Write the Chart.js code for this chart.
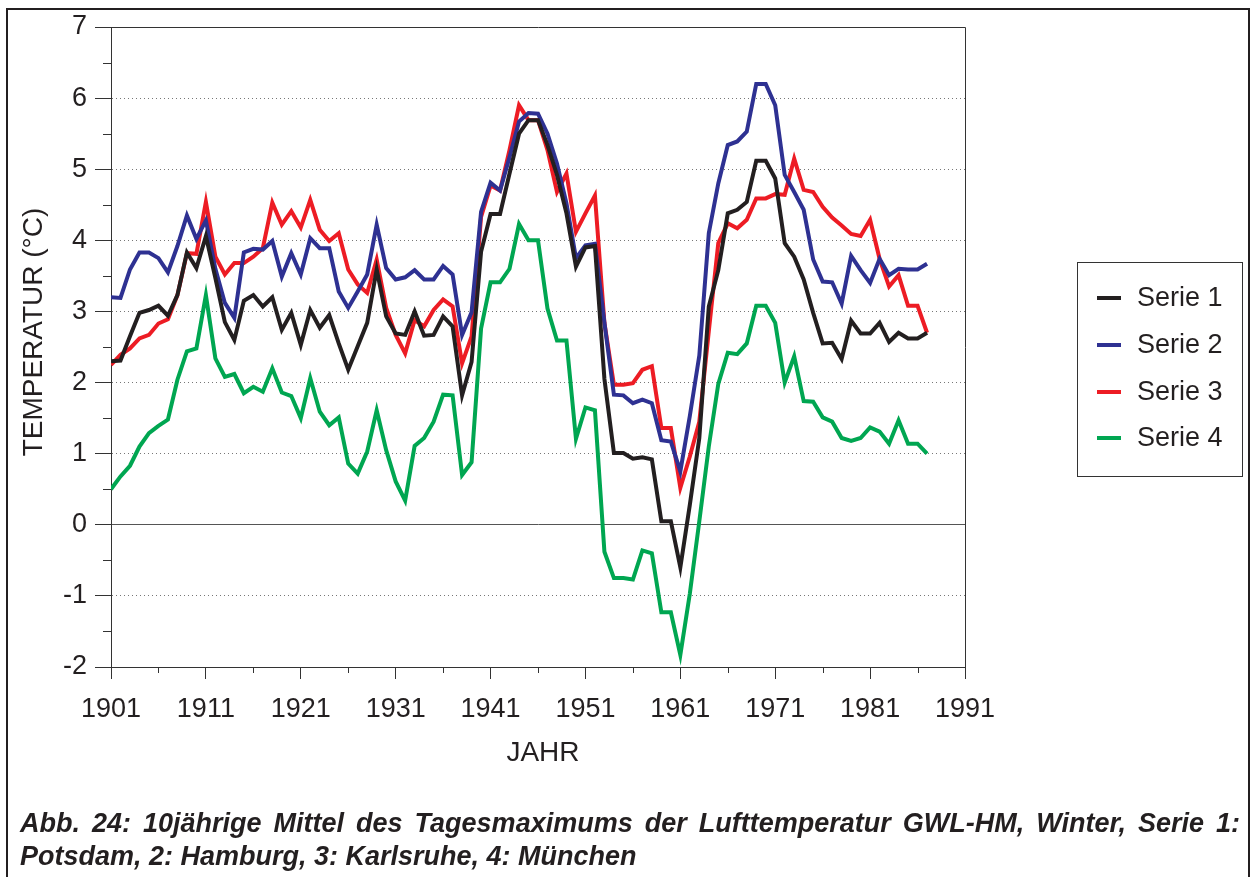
<!DOCTYPE html>
<html>
<head>
<meta charset="utf-8">
<script src="https://cdn.jsdelivr.net/npm/chart.js@4.4.1/dist/chart.umd.min.js"></script>
<style>
html,body{margin:0;padding:0;background:#fff;}
#wrap{position:relative;width:1255px;height:877px;overflow:hidden;background:#fff;}
#frame{position:absolute;left:6px;top:8px;width:1244px;height:900px;border:2px solid #231f20;box-sizing:border-box;}
#c{position:absolute;left:0;top:0;}
#caption{position:absolute;left:20px;top:807px;width:1220px;font-family:"Liberation Sans",Arial,Helvetica,sans-serif;font-style:italic;font-weight:bold;font-size:27px;line-height:33px;color:#231f20;}
#caption .l1{text-align:justify;text-align-last:justify;}
#caption .l2{text-align:left;}
</style>
</head>
<body>
<div id="wrap">
  <div id="frame"></div>
  <canvas id="c" width="1255" height="877"></canvas>
  <div id="caption">
    <div class="l1">Abb. 24: 10jährige Mittel des Tagesmaximums der Lufttemperatur GWL-HM, Winter, Serie 1:</div>
    <div class="l2">Potsdam, 2: Hamburg, 3: Karlsruhe, 4: München</div>
  </div>
</div>
<script>
const years = [1901,1902,1903,1904,1905,1906,1907,1908,1909,1910,
  1911,1912,1913,1914,1915,1916,1917,1918,1919,1920,
  1921,1922,1923,1924,1925,1926,1927,1928,1929,1930,
  1931,1932,1933,1934,1935,1936,1937,1938,1939,1940,
  1941,1942,1943,1944,1945,1946,1947,1948,1949,1950,
  1951,1952,1953,1954,1955,1956,1957,1958,1959,1960,
  1961,1962,1963,1964,1965,1966,1967,1968,1969,1970,
  1971,1972,1973,1974,1975,1976,1977,1978,1979,1980,
  1981,1982,1983,1984,1985,1986,1987];

const serie1 = [2.30,2.31,2.65,2.98,3.02,3.08,2.94,3.23,3.83,3.61,
  4.06,3.47,2.85,2.60,3.15,3.23,3.07,3.20,2.74,2.98,
  2.53,3.02,2.77,2.95,2.55,2.18,2.51,2.84,3.59,2.93,
  2.69,2.67,3.00,2.66,2.67,2.93,2.79,1.82,2.29,3.84,
  4.37,4.37,4.94,5.50,5.69,5.69,5.34,4.92,4.38,3.63,
  3.90,3.92,2.05,1.01,1.01,0.93,0.95,0.92,0.05,0.05,
  -0.60,0.28,1.22,3.07,3.58,4.38,4.43,4.54,5.12,5.12,
  4.87,3.96,3.77,3.45,2.98,2.55,2.56,2.33,2.87,2.69,
  2.69,2.84,2.57,2.70,2.62,2.62,2.70];

const serie2 = [3.20,3.19,3.59,3.83,3.83,3.75,3.55,3.92,4.35,4.02,
  4.28,3.60,3.12,2.91,3.83,3.88,3.87,3.99,3.49,3.82,
  3.52,4.03,3.89,3.89,3.28,3.05,3.28,3.52,4.22,3.61,
  3.45,3.48,3.58,3.45,3.45,3.64,3.52,2.67,2.99,4.40,
  4.81,4.70,5.17,5.67,5.79,5.78,5.50,5.08,4.52,3.75,
  3.93,3.95,2.84,1.83,1.82,1.71,1.76,1.71,1.19,1.17,
  0.75,1.53,2.38,4.10,4.80,5.34,5.39,5.53,6.20,6.20,
  5.90,4.92,4.68,4.43,3.73,3.42,3.41,3.11,3.78,3.58,
  3.40,3.74,3.51,3.60,3.59,3.59,3.67];

const serie3 = [2.25,2.39,2.48,2.62,2.67,2.83,2.89,3.23,3.82,3.81,
  4.54,3.77,3.52,3.68,3.68,3.77,3.89,4.53,4.22,4.41,
  4.18,4.57,4.15,3.99,4.10,3.59,3.38,3.26,3.73,3.05,
  2.67,2.41,2.88,2.79,3.02,3.17,3.07,2.27,2.65,4.33,
  4.77,4.70,5.27,5.90,5.69,5.69,5.27,4.68,4.94,4.12,
  4.38,4.63,2.84,1.97,1.97,1.99,2.18,2.23,1.36,1.36,
  0.52,0.96,1.45,2.72,3.96,4.24,4.17,4.29,4.59,4.59,
  4.65,4.64,5.15,4.71,4.68,4.47,4.32,4.21,4.09,4.06,
  4.29,3.74,3.35,3.51,3.08,3.08,2.70];

const serie4 = [0.50,0.68,0.83,1.10,1.29,1.39,1.48,2.04,2.44,2.48,
  3.23,2.34,2.08,2.12,1.85,1.94,1.87,2.20,1.86,1.81,
  1.50,2.06,1.59,1.40,1.51,0.86,0.72,1.03,1.61,1.05,
  0.61,0.34,1.11,1.22,1.45,1.83,1.82,0.70,0.88,2.76,
  3.41,3.41,3.60,4.23,4.00,4.00,3.04,2.59,2.59,1.21,
  1.65,1.61,-0.38,-0.75,-0.75,-0.77,-0.36,-0.40,-1.23,-1.23,
  -1.83,-0.97,0.05,1.10,1.98,2.42,2.40,2.55,3.08,3.08,
  2.84,2.00,2.37,1.74,1.73,1.51,1.45,1.22,1.18,1.22,
  1.37,1.31,1.14,1.47,1.14,1.14,1.00];

const seriesLabels = ['Serie 1','Serie 2','Serie 3','Serie 4'];
const xTickLabels = [1901,1911,1921,1931,1941,1951,1961,1971,1981,1991];
const xMinorTicks = [1906,1916,1926,1936,1946,1956,1966,1976,1986];
const yMinorTicks = [-1.5,-0.5,0.5,1.5,2.5,3.5,4.5,5.5,6.5];
const xTitle = 'JAHR';
const yTitle = 'TEMPERATUR (°C)';

const FONT = '"Liberation Sans", Arial, Helvetica, sans-serif';
const TXT = '#231f20';
const colors = ['#231f20','#2e3192','#ed1c24','#00a651'];
const allSeries = [serie1, serie2, serie3, serie4];

const decor = {
  id: 'decor',
  afterDraw(chart) {
    const ctx = chart.ctx;
    const a = chart.chartArea;
    const xs = chart.scales.x, ys = chart.scales.y;
    ctx.save();
    ctx.strokeStyle = '#333';
    ctx.lineWidth = 1;
    ctx.beginPath();
    ctx.moveTo(Math.round(a.left) + 0.5, Math.round(a.top) + 0.5);
    ctx.lineTo(Math.round(a.right) + 0.5, Math.round(a.top) + 0.5);
    ctx.lineTo(Math.round(a.right) + 0.5, Math.round(a.bottom) + 0.5);
    ctx.stroke();
    ctx.beginPath();
    yMinorTicks.forEach(v => {
      const y = Math.round(ys.getPixelForValue(v)) + 0.5;
      ctx.moveTo(a.left - 8, y); ctx.lineTo(a.left, y);
    });
    xMinorTicks.forEach(v => {
      const x = Math.round(xs.getPixelForValue(v)) + 0.5;
      ctx.moveTo(x, a.bottom); ctx.lineTo(x, a.bottom + 6);
    });
    ctx.stroke();
    ctx.fillStyle = TXT;
    ctx.font = '28px ' + FONT;
    ctx.textAlign = 'center';
    ctx.textBaseline = 'middle';
    ctx.fillText(xTitle, (a.left + a.right) / 2 + 5, 753);
    ctx.save();
    ctx.translate(34, 332);
    ctx.rotate(-Math.PI / 2);
    ctx.fillText(yTitle, 0, 0);
    ctx.restore();
    ctx.strokeStyle = '#333';
    ctx.lineWidth = 1;
    ctx.strokeRect(1077.5, 262.5, 165, 214);
    const rows = [298, 345, 392, 438];
    ctx.font = '27px ' + FONT;
    ctx.textAlign = 'left';
    chart.data.datasets.forEach((ds, i) => {
      ctx.strokeStyle = ds.borderColor;
      ctx.lineWidth = 4;
      ctx.beginPath();
      ctx.moveTo(1097, rows[i]); ctx.lineTo(1121, rows[i]);
      ctx.stroke();
      ctx.fillStyle = TXT;
      ctx.fillText(ds.label, 1137, rows[i] + 1);
    });
    ctx.restore();
  }
};

new Chart(document.getElementById('c'), {
  type: 'line',
  data: {
    datasets: allSeries.map((s, i) => ({
      label: seriesLabels[i],
      data: years.map((yr, j) => ({x: yr, y: s[j]})),
      borderColor: colors[i],
      backgroundColor: colors[i],
      borderWidth: 4,
      pointRadius: 0,
      tension: 0,
      fill: false
    }))
  },
  options: {
    responsive: false,
    animation: false,
    devicePixelRatio: 1,
    layout: { padding: { left: 0, top: 27, right: 290, bottom: 87 } },
    plugins: { legend: { display: false }, tooltip: { enabled: false } },
    scales: {
      x: {
        type: 'linear',
        min: 1901, max: 1991,
        afterFit: s => { s.height = 123; },
        afterBuildTicks: s => { s.ticks = xTickLabels.map(v => ({value: v})); },
        ticks: {
          autoSkip: false, maxRotation: 0, minRotation: 0,
          color: TXT, padding: 14,
          font: { family: FONT, size: 27 },
          callback: v => String(v)
        },
        grid: { drawOnChartArea: false, drawTicks: true, tickLength: 12, tickColor: '#333', tickWidth: 1 },
        border: { display: true, color: '#333', width: 1 }
      },
      y: {
        min: -2, max: 7,
        afterFit: s => { s.width = 111; },
        ticks: {
          stepSize: 1, color: TXT, padding: 8,
          font: { family: FONT, size: 27 },
          callback: v => String(v)
        },
        grid: {
          drawOnChartArea: true, drawTicks: true, tickLength: 16,
          tickColor: '#333', tickWidth: 1, lineWidth: 1,
          color: c => (c.tick && c.tick.value === 0) ? '#555' : '#777'
        },
        border: {
          display: true, color: '#333', width: 1,
          dash: c => (c.tick && c.tick.value === 0) ? [] : [1, 3]
        }
      }
    }
  },
  plugins: [decor]
});
</script>
</body>
</html>
